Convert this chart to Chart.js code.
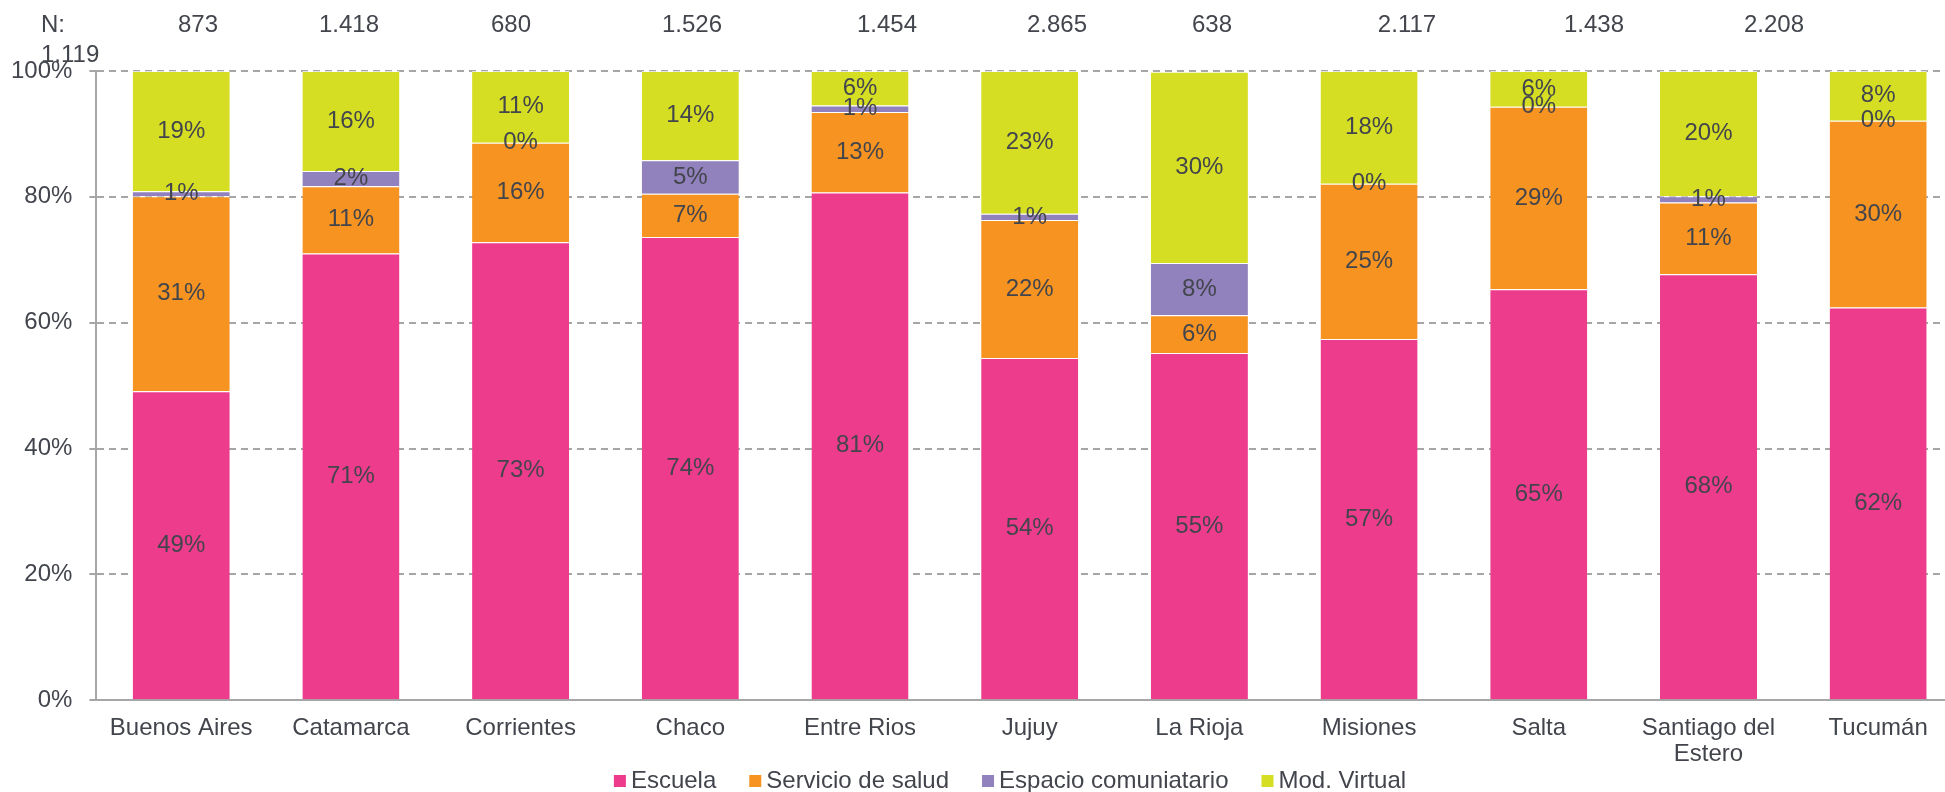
<!DOCTYPE html>
<html>
<head>
<meta charset="utf-8">
<script src="https://cdn.jsdelivr.net/npm/chart.js@4/dist/chart.umd.min.js"></script>
<style>
  html, body { margin: 0; padding: 0; background: #ffffff; overflow: hidden; }
  #wrap { position: relative; width: 1945px; height: 792px; overflow: hidden; }
  #c { position: absolute; left: 0; top: 0; }
</style>
</head>
<body>
<div id="wrap"><canvas id="c" width="1963" height="792"></canvas></div>
<script>
// ---- data ----
const categories = ['Buenos Aires', 'Catamarca', 'Corrientes', 'Chaco', 'Entre Rios', 'Jujuy',
  'La Rioja', 'Misiones', 'Salta', ['Santiago del', 'Estero'], 'Tucumán'];
const escuela = [49.1, 71.0, 72.8, 73.6, 80.7, 54.4, 55.2, 57.4, 65.3, 67.7, 62.4];
const servicioSalud = [31.0, 10.7, 15.8, 6.9, 12.8, 21.9, 6.0, 24.7, 29.0, 11.4, 29.7];
const espacioComunitario = [0.8, 2.4, 0.0, 5.3, 1.0, 1.0, 8.3, 0.0, 0.0, 1.0, 0.0];
const modVirtual = [19.1, 15.9, 11.4, 14.2, 5.5, 22.7, 30.4, 17.9, 5.7, 19.9, 7.9];
const nValues = ['1.119', '873', '1.418', '680', '1.526', '1.454', '2.865', '638', '2.117', '1.438', '2.208'];
const yTicks = [0, 20, 40, 60, 80, 100];

// ---- style / layout ----
const TEXT = '#43454d';
const FONT = '"Liberation Sans", Arial, sans-serif';
// x positions (px) of the N row cells, as laid out in the source table
const nLabelX = [198, 349, 511, 692, 887, 1057, 1212, 1407, 1594, 1774];
const legendCenterX = 1010, legendY = 781;

const labelPlugin = {
  id: 'segLabels',
  afterDatasetsDraw(chart) {
    const ctx = chart.ctx;
    ctx.save();
    ctx.font = '24px ' + FONT;
    ctx.fillStyle = TEXT;
    ctx.textAlign = 'center';
    ctx.textBaseline = 'middle';
    chart.data.datasets.forEach((ds, di) => {
      const meta = chart.getDatasetMeta(di);
      meta.data.forEach((bar, i) => {
        const v = ds.data[i];
        const yc = (bar.y + bar.base) / 2;
        ctx.fillText(Math.round(v) + '%', bar.x, yc);
      });
    });
    ctx.restore();
  }
};

const nRowPlugin = {
  id: 'nRow',
  afterDraw(chart) {
    const ctx = chart.ctx;
    ctx.save();
    ctx.font = '24px ' + FONT;
    ctx.fillStyle = TEXT;
    ctx.textBaseline = 'middle';
    ctx.textAlign = 'left';
    ctx.fillText('N:', 41, 25);
    ctx.fillText(nValues[0], 41, 55);
    ctx.textAlign = 'center';
    for (let i = 1; i < nValues.length; i++) {
      ctx.fillText(nValues[i], nLabelX[i - 1], 25);
    }
    ctx.restore();
  }
};

const legendPlugin = {
  id: 'bottomLegend',
  afterDraw(chart) {
    const ctx = chart.ctx;
    ctx.save();
    ctx.font = '24px ' + FONT;
    ctx.textBaseline = 'middle';
    ctx.textAlign = 'left';
    const box = 12, gapBox = 5, gapItem = 33;
    const items = chart.data.datasets.map(ds => ({ text: ds.label, color: ds.backgroundColor, w: box + gapBox + ctx.measureText(ds.label).width }));
    const total = items.reduce((s, it) => s + it.w, 0) + gapItem * (items.length - 1);
    let x = legendCenterX - total / 2;
    items.forEach(it => {
      ctx.fillStyle = it.color;
      ctx.fillRect(x, legendY - box / 2, box, box);
      ctx.fillStyle = TEXT;
      ctx.fillText(it.text, x + box + gapBox, legendY);
      x += it.w + gapItem;
    });
    ctx.restore();
  }
};

const common = { borderColor: 'rgba(255,255,255,0.7)', borderWidth: { top: 1, left: 0, right: 0, bottom: 0 }, borderSkipped: false };

new Chart(document.getElementById('c'), {
  type: 'bar',
  data: {
    labels: categories,
    datasets: [
      { label: 'Escuela', data: escuela, backgroundColor: '#EE3C8C', ...common },
      { label: 'Servicio de salud', data: servicioSalud, backgroundColor: '#F79320', ...common },
      { label: 'Espacio comuniatario', data: espacioComunitario, backgroundColor: '#9181BC', ...common },
      { label: 'Mod. Virtual', data: modVirtual, backgroundColor: '#D5DE22', ...common }
    ]
  },
  options: {
    responsive: false,
    animation: false,
    devicePixelRatio: 1,
    layout: { padding: { top: 71, left: -6, right: 0, bottom: 9 } },
    datasets: { bar: { barPercentage: 0.572, categoryPercentage: 1.0 } },
    plugins: {
      legend: { display: false },
      tooltip: { enabled: false }
    },
    scales: {
      x: {
        stacked: true,
        grid: { display: false, drawTicks: false },
        border: { display: true, color: '#A6A6A6', width: 2 },
        ticks: { font: { size: 24, family: FONT, lineHeight: 1.1 }, color: TEXT, padding: 15, maxRotation: 0, autoSkip: false }
      },
      y: {
        stacked: true,
        min: 0,
        max: 100,
        afterBuildTicks(scale) { scale.ticks = yTicks.map(v => ({ value: v })); },
        grid: { color: '#A6A6A6', lineWidth: 2, tickLength: 7, tickBorderDash: [], drawTicks: true },
        border: { display: true, color: '#A6A6A6', width: 2, dash: [7, 5] },
        ticks: { font: { size: 24, family: FONT }, color: TEXT, padding: 17, callback: v => v + '%' }
      }
    }
  },
  plugins: [labelPlugin, nRowPlugin, legendPlugin]
});
</script>
</body>
</html>
